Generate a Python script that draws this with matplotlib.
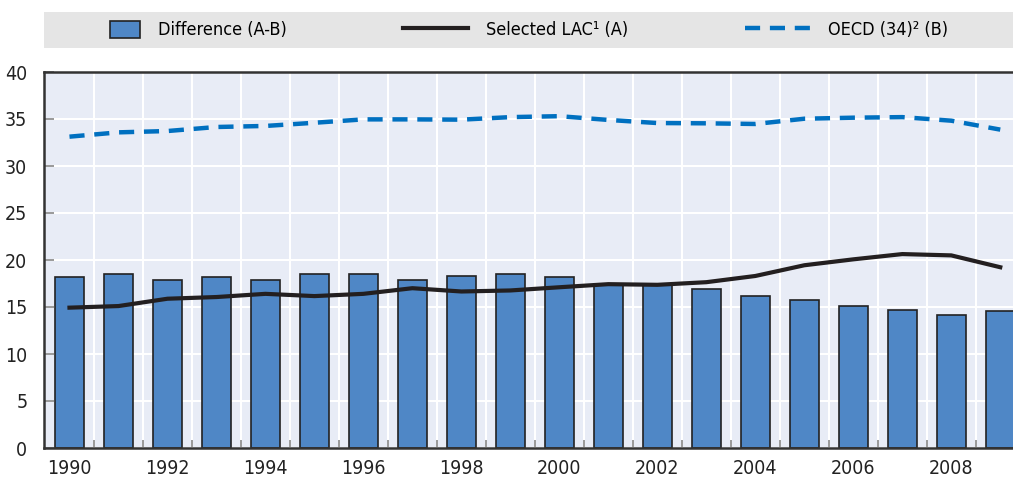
import matplotlib
matplotlib.use('Agg')
import matplotlib.pyplot as plt
import numpy as np
from matplotlib.patches import Patch, Rectangle
from matplotlib.lines import Line2D
from matplotlib.legend_handler import HandlerPatch

plt.rcParams['font.family'] = ['DejaVu Sans']
plt.rcParams['font.stretch'] = 'condensed'

# Data
years = list(range(1990, 2010))
lac = [14.93, 15.10, 15.88, 16.06, 16.40, 16.16, 16.40, 17.00, 16.65, 16.76,
       17.10, 17.43, 17.36, 17.64, 18.30, 19.44, 20.07, 20.63, 20.49, 19.23]
oecd = [33.12, 33.58, 33.72, 34.15, 34.26, 34.60, 34.96, 34.96, 34.93, 35.20,
        35.30, 34.90, 34.57, 34.54, 34.47, 35.03, 35.14, 35.20, 34.82, 33.87]
difference = [18.24, 18.49, 17.92, 18.20, 17.85, 18.49, 18.56, 17.92, 18.31, 18.49,
              18.24, 17.50, 17.30, 16.87, 16.16, 15.70, 15.10, 14.65, 14.20, 14.58]
xtick_years = list(range(1990, 2010, 2))
yticks = list(range(0, 45, 5))

labels = ['Difference (A-B)', 'Selected LAC\u00b9 (A)', 'OECD (34)\u00b2 (B)']

bar_color = '#4F87C6'
lac_color = '#231F20'
oecd_color = '#0070C0'
bg_color = '#E8ECF6'

fig = plt.figure(figsize=(10.13, 4.8), dpi=100)
ax = fig.add_axes([44 / 1013, 32 / 480, 969 / 1013, 376 / 480])
ax.set_facecolor(bg_color)

ax.bar(years, difference, width=0.6, color=bar_color, edgecolor='#222222',
       linewidth=1.2, zorder=2)
ax.plot(years, lac, color=lac_color, linewidth=3, zorder=3)
ax.plot(years, oecd, color=oecd_color, linewidth=3.2, dashes=(3.4, 2.2), zorder=3)

ax.set_xlim(1989.48, 2009.26)
ax.set_ylim(0, 40)
ax.set_yticks(yticks)
ax.set_xticks(xtick_years)
ax.set_xticks(np.arange(1990.5, 2009.5, 1.0), minor=True)

ax.grid(axis='y', color='white', linewidth=1.5, zorder=0)
ax.grid(axis='x', which='minor', color='white', linewidth=1.5, zorder=0)
ax.set_axisbelow(True)

ax.tick_params(axis='y', direction='in', length=7, color='#888888', width=1.2,
               labelsize=14, pad=12, labelcolor='#222222')
ax.tick_params(axis='x', which='major', length=0, labelsize=14, pad=8,
               labelcolor='#222222')
ax.tick_params(axis='x', which='minor', direction='in', length=6,
               color='#888888', width=1.2)

for side in ['left', 'bottom', 'top']:
    ax.spines[side].set_color('#333333')
    ax.spines[side].set_linewidth(1.8)
ax.spines['right'].set_visible(False)

# legend band
lax = fig.add_axes([44 / 1013, 432 / 480, 969 / 1013, 36 / 480])
lax.set_facecolor('#E5E5E5')
lax.set_xticks([])
lax.set_yticks([])
for s in lax.spines.values():
    s.set_visible(False)


# small square box for the bar entry, sitting at the right of the handle area
def small_box(legend, orig_handle, xdescent, ydescent, width, height, fontsize):
    w = width * 0.46
    return Rectangle((width - w - xdescent, -ydescent), w, height)


handles = [Patch(facecolor=bar_color, edgecolor='#222222', linewidth=1.2),
           Line2D([], [], color=lac_color, linewidth=3),
           Line2D([], [], color=oecd_color, linewidth=3.2, dashes=(3.4, 2.2))]
lax.legend(handles, labels, ncol=3, loc='center', frameon=False, fontsize=13,
           handlelength=3.6, handleheight=1.1, handletextpad=1.0,
           columnspacing=6.45, bbox_to_anchor=(0.4825, 0.5),
           handler_map={Patch: HandlerPatch(patch_func=small_box)})

fig.savefig('out.png', dpi=100)
